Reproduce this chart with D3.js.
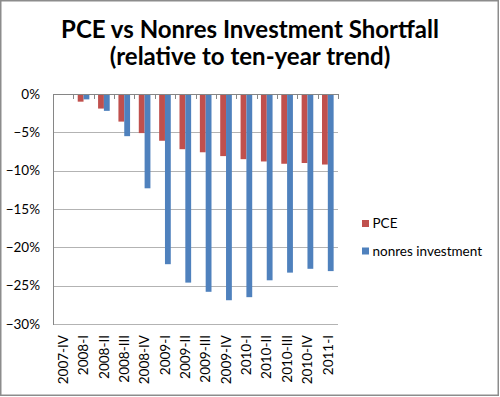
<!DOCTYPE html>
<html>
<head>
<meta charset="utf-8">
<script src="https://cdn.jsdelivr.net/npm/d3@7"></script>
<style>
  body { margin: 0; background: #fff; }
  text { font-family: Lato, "Open Sans", sans-serif; fill: #000; }
</style>
</head>
<body>
<script>
const width = 500
const height = 397

// quarters
const quarters = ['2007-IV', '2008-I', '2008-II', '2008-III', '2008-IV',
  '2009-I', '2009-II', '2009-III', '2009-IV', '2010-I',
  '2010-II', '2010-III', '2010-IV', '2011-I']
// shortfall vs ten-year trend, percent
const pce = [0, -1.0, -1.9, -3.6, -5.1, -6.1, -7.2, -7.6, -8.1, -8.5, -8.8, -9.1, -9.0, -9.2]
const nonres = [0, -0.7, -2.2, -5.5, -12.3, -22.2, -24.6, -25.8, -26.9, -26.5, -24.3, -23.3, -22.8, -23.1]
const yTicks = [0, -5, -10, -15, -20, -25, -30]
const seriesNames = ['PCE', 'nonres investment']
const colors = ['#C0504D', '#4F81BD']

const plot = { left: 53, right: 338, top: 94, bottom: 324 }

const svg = d3.select('body')
  .append('svg')
  .attr('width', width)
  .attr('height', height)

// outer frame
svg.append('rect')
  .attr('x', 0.75).attr('y', 0.75)
  .attr('width', 497.5).attr('height', 394.5)
  .attr('fill', '#fff')
  .attr('stroke', '#8c8c8c')
  .attr('stroke-width', 1.5)

// title
const title = svg.append('text')
  .attr('text-anchor', 'middle')
  .attr('font-size', 24)
  .attr('font-weight', 'bold')
title.append('tspan').attr('x', 250).attr('y', 38).text('PCE vs Nonres Investment Shortfall')
title.append('tspan').attr('x', 250).attr('y', 65).text('(relative to ten-year trend)')

const x0 = d3.scaleBand()
  .domain(quarters)
  .range([plot.left, plot.right])

// gap width 150%: two bars take 2 / 3.5 of the band
const x1 = d3.scaleBand()
  .domain(seriesNames)
  .range([x0.bandwidth() * 0.75 / 3.5, x0.bandwidth() * (0.75 + 2) / 3.5])

const y = d3.scaleLinear()
  .domain([-30, 0])
  .range([plot.bottom, plot.top])

// gridlines
svg.append('g')
  .selectAll('line')
  .data(yTicks)
  .join('line')
  .attr('x1', plot.left).attr('x2', plot.right)
  .attr('y1', d => Math.round(y(d)) + 0.5)
  .attr('y2', d => Math.round(y(d)) + 0.5)
  .attr('stroke', '#b3b3b3')
  .attr('stroke-width', 1)

// y labels
svg.append('g')
  .selectAll('text')
  .data(yTicks)
  .join('text')
  .attr('x', 40)
  .attr('y', d => y(d))
  .attr('dy', '0.35em')
  .attr('text-anchor', 'end')
  .attr('font-size', 13.5)
  .text(d => d3.format('.0%')(d / 100))

// bars
const series = [pce, nonres]
const groups = svg.append('g')
  .selectAll('g')
  .data(series)
  .join('g')
  .attr('fill', (d, i) => colors[i])

groups.selectAll('rect')
  .data((vals, si) => vals.map((v, i) => ({ q: quarters[i], v: v, s: seriesNames[si] })))
  .join('rect')
  .attr('x', d => x0(d.q) + x1(d.s))
  .attr('width', x1.bandwidth())
  .attr('y', d => y(0))
  .attr('height', d => y(d.v) - y(0))

// value axis line
svg.append('line')
  .attr('x1', plot.left + 0.5).attr('x2', plot.left + 0.5)
  .attr('y1', plot.top).attr('y2', plot.bottom + 1)
  .attr('stroke', '#868686')

// category axis at 0 with ticks between categories
svg.append('line')
  .attr('x1', plot.left).attr('x2', plot.right)
  .attr('y1', y(0) + 0.5).attr('y2', y(0) + 0.5)
  .attr('stroke', '#868686')

svg.append('g')
  .selectAll('line')
  .data(d3.range(quarters.length + 1))
  .join('line')
  .attr('x1', i => Math.round(plot.left + i * x0.step()) + 0.5)
  .attr('x2', i => Math.round(plot.left + i * x0.step()) + 0.5)
  .attr('y1', y(0))
  .attr('y2', y(0) + 5)
  .attr('stroke', '#868686')

// x labels, rotated
svg.append('g')
  .selectAll('text')
  .data(quarters)
  .join('text')
  .attr('transform', d => `translate(${x0(d) + x0.bandwidth() / 2},335) rotate(-90)`)
  .attr('dy', '0.35em')
  .attr('text-anchor', 'end')
  .attr('font-size', 13.5)
  .text(d => d)

// legend
const legend = svg.append('g')
  .selectAll('g')
  .data(seriesNames)
  .join('g')
  .attr('transform', (d, i) => `translate(362,${220 + i * 27.5})`)

legend.append('rect')
  .attr('width', 7).attr('height', 7)
  .attr('fill', (d, i) => colors[i])

legend.append('text')
  .attr('x', 10.5)
  .attr('y', 3.5)
  .attr('dy', '0.35em')
  .attr('font-size', 13.5)
  .text(d => d)
</script>
</body>
</html>
